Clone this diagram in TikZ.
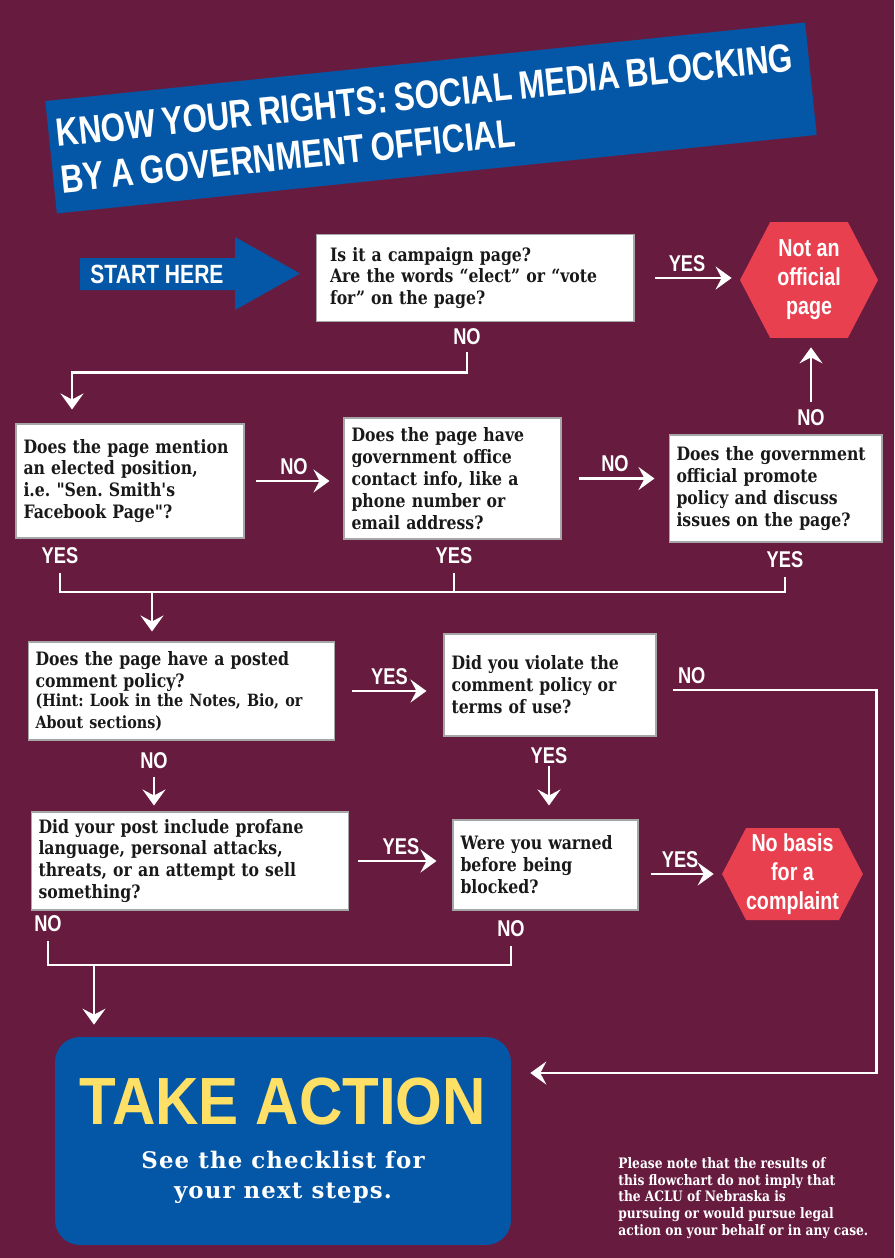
\documentclass[tikz,border=0pt]{standalone}
\usepackage{fontspec}
\usetikzlibrary{arrows.meta, shapes.symbols}
\newfontfamily\boxfont[FakeStretch=0.85]{DejaVu Serif}
\newfontfamily\subfont[LetterSpace=5]{DejaVu Serif}
\newfontfamily\condfont[FakeStretch=0.8]{Liberation Sans}
\newfontfamily\titlefont[FakeStretch=0.795]{Liberation Sans}
\newfontfamily\actfont[FakeStretch=0.9]{Liberation Sans}
\definecolor{aclumaroon}{HTML}{671C3F}
\definecolor{aclublue}{HTML}{0457A7}
\definecolor{aclured}{HTML}{E9404F}
\definecolor{acluyellow}{HTML}{FFE066}
\frenchspacing

\begin{document}
\begin{tikzpicture}[x=0.02cm, y=-0.02cm,
  qbox/.style={draw=gray!70, line width=0.6pt, fill=white, text=black!90, align=left,
    font=\boxfont\bfseries\fontsize{10.5}{12.5}\selectfont, inner xsep=0.15cm},
  hexa/.style={signal, signal to=west and east, signal pointer angle=125, fill=aclured,
    text=white, align=center, inner sep=0pt, font=\condfont\bfseries\fontsize{14}{16.5}\selectfont},
  lbl/.style={text=white, inner sep=1pt, font=\condfont\bfseries\fontsize{13}{13}\selectfont},
  link/.style={draw=white, line width=1.6pt},
  flow/.style={link, -{Stealth[length=3.2mm, width=4.6mm, inset=1.2mm]}}]

  % background
  \fill[aclumaroon] (0,0) rectangle (894,1258);

  % title banner
  \node[fill=aclublue, rotate=5.9, minimum width=15.28cm, minimum height=2.26cm, text width=14.98cm,
    inner xsep=0.15cm, align=left, text=white, font=\titlefont\bfseries\fontsize{22.5}{26.5}\selectfont]
    (title) at (431,118) {\spaceskip=0.17em\relax\mbox{KNOW YOUR RIGHTS: SOCIAL MEDIA BLOCKING}\\\mbox{BY A GOVERNMENT OFFICIAL}};

  % start arrow
  \fill[aclublue] (80,258) -- (235,258) -- (235,237) -- (300,273.5) -- (235,310) -- (235,290) -- (80,290) -- cycle;
  \node[text=white, font=\condfont\bfseries\fontsize{15}{15}\selectfont] (start) at (157,274) {START HERE};

  % questions
  \node[qbox, inner xsep=0.28cm, text width=5.8cm, minimum height=1.74cm] (box1) at (475,278)
    {Is it a campaign page?\\Are the words “elect” or “vote\\for” on the page?};
  \node[hexa, minimum width=2.76cm, minimum height=2.32cm] (nothex) at (809,280) {Not an\\official\\page};

  \node[qbox, text width=4.26cm, minimum height=2.28cm] (box2) at (130,481)
    {Does the page mention\\an elected position,\\i.e. "Sen. Smith's\\Facebook Page"?};
  \node[qbox, text width=4.04cm, minimum height=2.42cm] (box3) at (452.5,478.5)
    {Does the page have\\government office\\contact info, like a\\phone number or\\email address?};
  \node[qbox, text width=3.96cm, minimum height=2.14cm] (box4) at (775.5,488.5)
    {Does the government\\official promote\\policy and discuss\\issues on the page?};

  \node[qbox, text width=5.84cm, minimum height=1.96cm] (box5) at (181.5,691)
    {Does the page have a posted\\comment policy?\\\fontsize{9.6}{11}\selectfont (Hint: Look in the Notes, Bio, or\\About sections)};
  \node[qbox, text width=3.94cm, minimum height=2.04cm] (box6) at (550,685)
    {Did you violate the\\comment policy or\\terms of use?\\[3pt]};

  \node[qbox, text width=6.06cm, minimum height=1.96cm] (box7) at (190,861)
    {Did your post include profane\\language, personal attacks,\\threats, or an attempt to sell\\something?};
  \node[qbox, text width=3.4cm, minimum height=1.8cm] (box8) at (545.5,865)
    {Were you warned\\before being\\blocked?};
  \node[hexa, minimum width=2.7cm, minimum height=1.84cm] (nobasis) at (792.5,874) {No basis\\for a\\complaint};

  % outcome
  \node[fill=aclublue, rounded corners=0.5cm, minimum width=9.12cm, minimum height=4.16cm, align=center,
    text=white, font=\subfont\bfseries\fontsize{13}{17}\selectfont]
    (action) at (283,1141)
    {\textcolor{acluyellow}{\actfont\fontsize{38}{40}\selectfont TAKE ACTION}\\[8pt]
     See the checklist for\\your next steps.};
  \node[anchor=west, text=white, align=left, inner sep=0pt, font=\boxfont\bfseries\fontsize{8.2}{9.5}\selectfont]
    (note) at (618,1198)
    {Please note that the results of\\this flowchart do not imply that\\the ACLU of Nebraska is\\pursuing or would pursue legal\\action on your behalf or in any case.};

  % labels off the boxes
  \node[lbl] (no1) at (467,337) {NO};
  \node[lbl] (no4) at (811,418) {NO};
  \node[lbl] (yes2) at (60,556) {YES};
  \node[lbl] (yes3) at (454,556) {YES};
  \node[lbl] (yes4) at (785,560) {YES};
  \node[lbl] (no5) at (154,761) {NO};
  \node[lbl] (yes6) at (549,756) {YES};
  \node[lbl] (no7) at (48,924) {NO};
  \node[lbl] (no8) at (511,929) {NO};
  \coordinate (join1) at (152,592);
  \coordinate (join2) at (94,965);

  % connectors
  \draw[flow, shorten <=0.42cm, shorten >=0.16cm] (box1.east) -- node[lbl, above=2pt] (yes1) {YES} (box1.east -| nothex.west);
  \draw[flow, shorten <=0.1cm, shorten >=0.28cm] (no1.south) -- ++(0,25) -| ([xshift=-1.16cm]box2.north);
  \draw[flow, shorten <=0.22cm, shorten >=0.28cm] (box2.east) -- node[lbl, above=2pt] (no2) {NO} (box2.east -| box3.west);
  \draw[flow, shorten <=0.34cm, shorten >=0.28cm] (box3.east) -- node[lbl, above=2pt] (no3) {NO} (box3.east -| box4.west);
  \draw[flow, shorten <=0.12cm, shorten >=0.18cm] (no4.north) -- (no4.north |- nothex.south);

  \draw[link, shorten <=0.14cm, shorten >=0.14cm] (yes2.south) |- (join1) -| (yes4.south);
  \draw[link, shorten <=0.14cm] (yes3.south) -- (yes3.south |- join1);
  \draw[flow, shorten >=0.2cm] (join1) -- (join1 |- box5.north);

  \draw[flow, shorten <=0.34cm, shorten >=0.34cm] (box5.east) -- node[lbl, above=2pt] (yes5) {YES} (box5.east -| box6.west);
  \draw[flow, shorten <=0.32cm, shorten >=0.38cm] ([yshift=-0.1cm]box6.east) -- ++(220,0) node[lbl, above=2pt, pos=0.16] (no6) {NO} |- ([yshift=1.36cm]action.east);
  \draw[flow, shorten <=0.12cm, shorten >=0.12cm] (no5.south) -- (no5.south |- box7.north);
  \draw[flow, shorten >=0.28cm] (yes6.south) -- (yes6.south |- box8.north);

  \draw[flow, shorten <=0.18cm, shorten >=0.32cm] (box7.east) -- node[lbl, above=2pt] (yes7) {YES} (box7.east -| box8.west);
  \draw[flow, shorten <=0.24cm, shorten >=0.16cm] (nobasis.west -| box8.east) -- node[lbl, above=2pt] (yes8) {YES} (nobasis.west);

  \draw[link, shorten <=0.14cm, shorten >=0.14cm] (no7.south) |- (join2) -| (no8.south);
  \draw[flow, shorten >=0.24cm] (join2) -- (join2 |- action.north);
\end{tikzpicture}
\end{document}
